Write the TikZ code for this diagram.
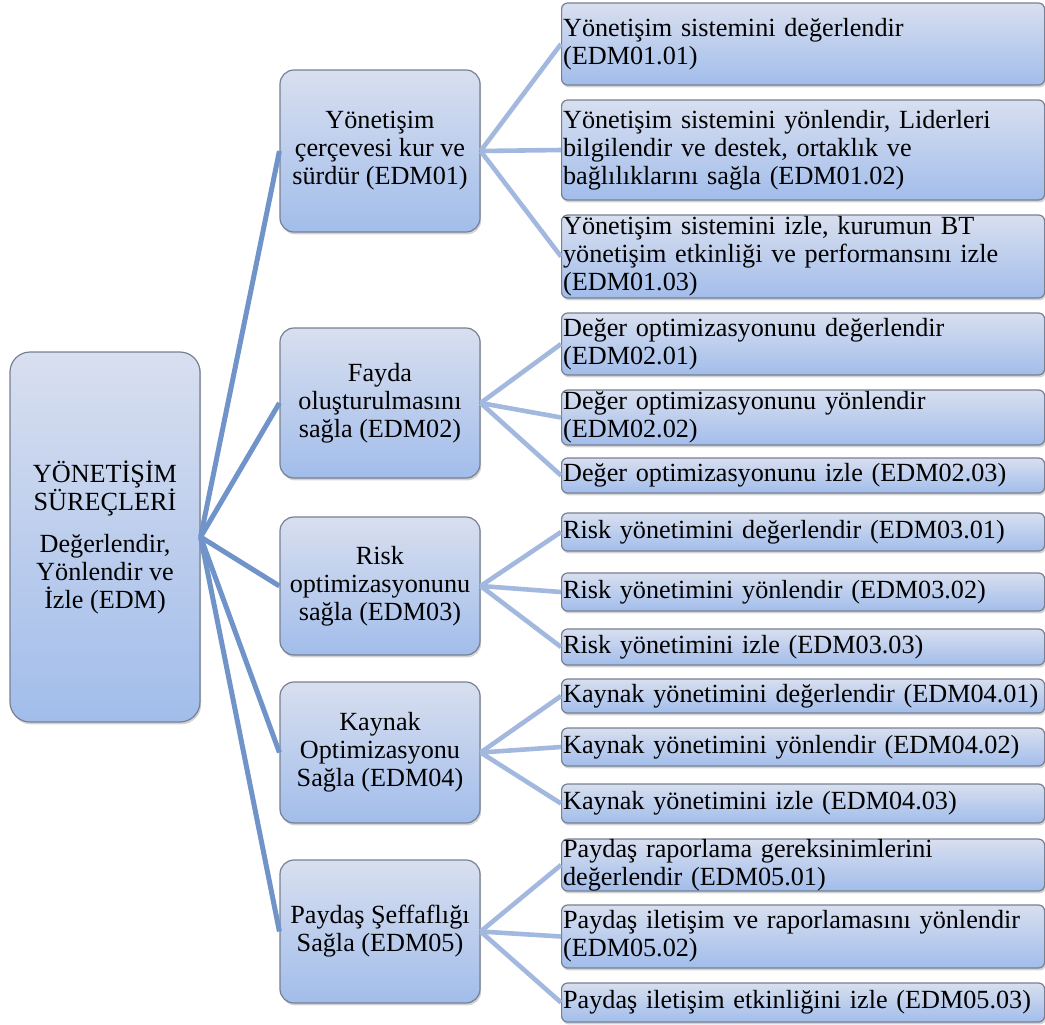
\documentclass[tikz,border=0pt]{standalone}
\usepackage{fontspec}
\setmainfont{Liberation Serif}
\usetikzlibrary{shadows}
\definecolor{boxtop}{RGB}{216,223,239}
\definecolor{boxbottom}{RGB}{162,189,235}
\definecolor{boxedge}{RGB}{118,128,146}
\definecolor{rootline}{RGB}{112,147,201}
\definecolor{leafline}{RGB}{163,184,222}

\begin{document}
\begin{tikzpicture}[
    x=0.5pt, y=-0.5pt,
    box/.style={draw=boxedge, line width=0.6pt, top color=boxtop, bottom color=boxbottom, font=\fontsize{13.1}{14}\selectfont,
      drop shadow={shadow xshift=0.6pt, shadow yshift=-1.2pt, opacity=0.35}},
    rootbox/.style={box, rounded corners=10pt, minimum width=95pt, minimum height=185pt, align=center, inner sep=2pt},
    groupbox/.style={box, rounded corners=7pt, minimum width=100pt, align=center, inner sep=2pt},
    taskbox/.style={box, rounded corners=3pt, anchor=west, minimum width=241.5pt, text width=240pt, inner xsep=0.75pt, inner ysep=0pt, align=left},
    mainline/.style={draw=rootline, line width=2.5pt},
    subline/.style={draw=leafline, line width=2.3pt}
  ]
  \useasboundingbox (0,0) rectangle (1045,1024);

  \node[rootbox] (root) at (105,537) {YÖNETİŞİM\\SÜREÇLERİ\\[7pt]Değerlendir,\\Yönlendir ve\\İzle (EDM)};

  \node[groupbox, minimum height=81pt] (edm01) at (380,151) {Yönetişim\\çerçevesi kur ve\\sürdür (EDM01)};
  \node[groupbox, minimum height=75pt] (edm02) at (380,403) {Fayda\\oluşturulmasını\\sağla (EDM02)};
  \node[groupbox, minimum height=69pt] (edm03) at (380,586) {Risk\\optimizasyonunu\\sağla (EDM03)};
  \node[groupbox, minimum height=70.5pt] (edm04) at (380,752.5) {Kaynak\\Optimizasyonu\\Sağla (EDM04)};
  \node[groupbox, minimum height=71.5pt] (edm05) at (380,931.5) {Paydaş Şeffaflığı\\Sağla (EDM05)};

  \draw[mainline] (root.east) -- (edm01.west);
  \draw[mainline] (root.east) -- (edm02.west);
  \draw[mainline] (root.east) -- (edm03.west);
  \draw[mainline] (root.east) -- (edm04.west);
  \draw[mainline] (root.east) -- (edm05.west);

  % EDM01
  \node[taskbox, minimum height=41pt] (t0101) at (561,44) {Yönetişim sistemini değerlendir\\(EDM01.01)};
  \node[taskbox, minimum height=50pt] (t0102) at (561,150) {Yönetişim sistemini yönlendir, Liderleri\\bilgilendir ve destek, ortaklık ve\\bağlılıklarını sağla (EDM01.02)};
  \node[taskbox, minimum height=41.5pt] (t0103) at (561,256.5) {Yönetişim sistemini izle, kurumun BT\\yönetişim etkinliği ve performansını izle\\(EDM01.03)};
  \draw[subline] (edm01.east) -- (t0101.west);
  \draw[subline] (edm01.east) -- (t0102.west);
  \draw[subline] (edm01.east) -- (t0103.west);

  % EDM02
  \node[taskbox, minimum height=31pt] (t0201) at (561,344) {Değer optimizasyonunu değerlendir\\(EDM02.01)};
  \node[taskbox, minimum height=27.5pt] (t0202) at (561,417.5) {Değer optimizasyonunu yönlendir\\(EDM02.02)};
  \node[taskbox, minimum height=17.5pt] (t0203) at (561,475.5) {Değer optimizasyonunu izle (EDM02.03)};
  \draw[subline] (edm02.east) -- (t0201.west);
  \draw[subline] (edm02.east) -- (t0202.west);
  \draw[subline] (edm02.east) -- (t0203.west);

  % EDM03
  \node[taskbox, minimum height=19pt] (t0301) at (561,532) {Risk yönetimini değerlendir (EDM03.01)};
  \node[taskbox, minimum height=19pt] (t0302) at (561,592) {Risk yönetimini yönlendir (EDM03.02)};
  \node[taskbox, minimum height=18pt] (t0303) at (561,647) {Risk yönetimini izle (EDM03.03)};
  \draw[subline] (edm03.east) -- (t0301.west);
  \draw[subline] (edm03.east) -- (t0302.west);
  \draw[subline] (edm03.east) -- (t0303.west);

  % EDM04
  \node[taskbox, minimum height=17pt] (t0401) at (561,696) {Kaynak yönetimini değerlendir (EDM04.01)};
  \node[taskbox, minimum height=19pt] (t0402) at (561,747) {Kaynak yönetimini yönlendir (EDM04.02)};
  \node[taskbox, minimum height=19.5pt] (t0403) at (561,803.5) {Kaynak yönetimini izle (EDM04.03)};
  \draw[subline] (edm04.east) -- (t0401.west);
  \draw[subline] (edm04.east) -- (t0402.west);
  \draw[subline] (edm04.east) -- (t0403.west);

  % EDM05
  \node[taskbox, minimum height=25pt] (t0501) at (561,865) {Paydaş raporlama gereksinimlerini\\değerlendir (EDM05.01)};
  \node[taskbox, minimum height=31.5pt] (t0502) at (561,936.5) {Paydaş iletişim ve raporlamasını yönlendir\\(EDM05.02)};
  \node[taskbox, minimum height=19.5pt] (t0503) at (561,1002.5) {Paydaş iletişim etkinliğini izle (EDM05.03)};
  \draw[subline] (edm05.east) -- (t0501.west);
  \draw[subline] (edm05.east) -- (t0502.west);
  \draw[subline] (edm05.east) -- (t0503.west);
\end{tikzpicture}
\end{document}
